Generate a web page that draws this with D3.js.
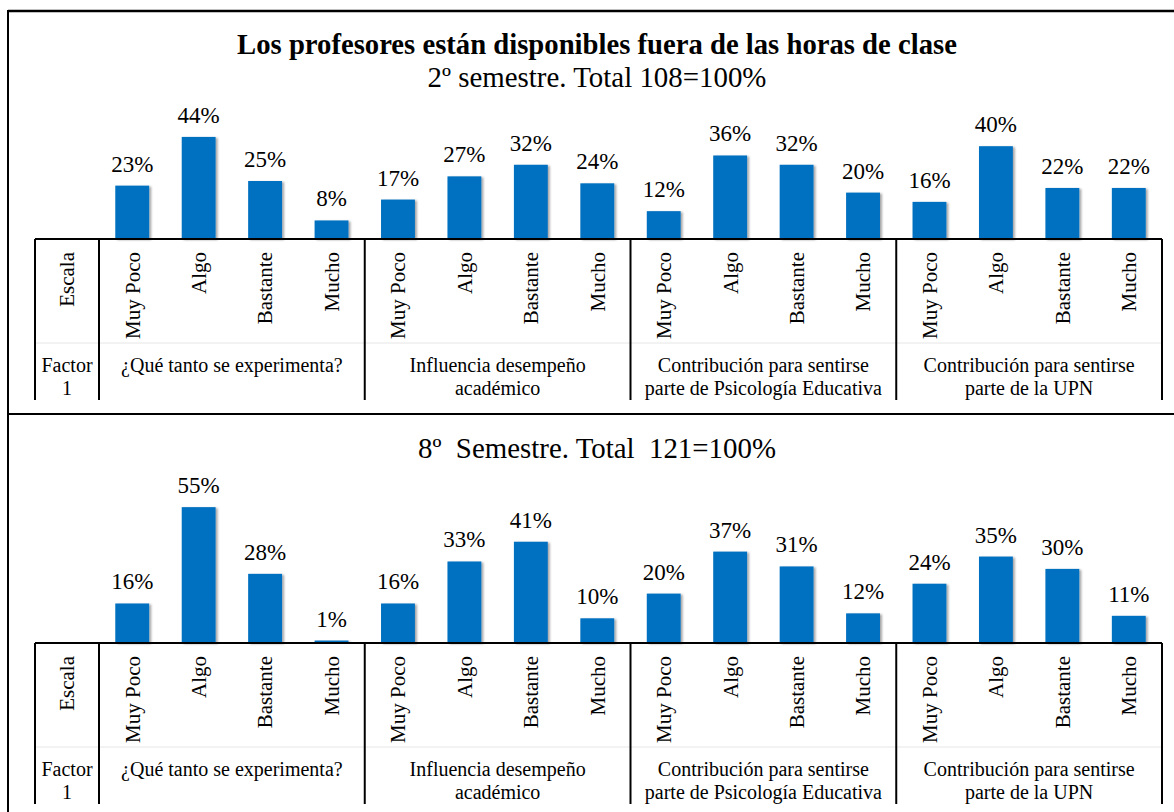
<!DOCTYPE html>
<html>
<head>
<meta charset="utf-8">
<script src="https://cdn.jsdelivr.net/npm/d3@7"></script>
<style>
  body { margin: 0; background: #fff; }
  svg text { font-family: "Liberation Serif", "Times New Roman", serif; fill: #000; white-space: pre; }
</style>
</head>
<body>
<div id="chart"></div>
<script>
const categories = ["Muy Poco", "Algo", "Bastante", "Mucho"];
const groups = [
    ["¿Qué tanto se experimenta?"],
    ["Influencia desempeño", "académico"],
    ["Contribución para sentirse", "parte de Psicología Educativa"],
    ["Contribución para sentirse", "parte de la UPN"]
];
const values2 = [
    [23, 44, 25, 8],
    [17, 27, 32, 24],
    [12, 36, 32, 20],
    [16, 40, 22, 22]
];
const values8 = [
    [16, 55, 28, 1],
    [16, 33, 41, 10],
    [20, 37, 31, 12],
    [24, 35, 30, 11]
];
const mainTitle = "Los profesores están disponibles fuera de las horas de clase";
const subTitle2 = "2º semestre. Total 108=100%";
const subTitle8 = "8º  Semestre. Total  121=100%";

const W = 1174, H = 812;
const SERIF = "'Liberation Serif', 'Times New Roman', serif";

const svg = d3.select("#chart").append("svg")
    .attr("width", W)
    .attr("height", H)
    .attr("font-family", SERIF);

// scale a text's font so it spans a given width
function fitWidth(sel, width) {
    const len = sel.node().getComputedTextLength();
    const fs = parseFloat(sel.style("font-size"));
    sel.style("font-size", (fs * width / len) + "px");
}

// soft shadow like the original office chart
const defs = svg.append("defs");
const f = defs.append("filter").attr("id", "shadow")
    .attr("x", "-20%").attr("y", "-20%").attr("width", "150%").attr("height", "150%");
f.append("feDropShadow")
    .attr("dx", 2).attr("dy", 1).attr("stdDeviation", 1.2)
    .attr("flood-color", "#000").attr("flood-opacity", 0.35);

// outer frame
svg.append("line").attr("x1", 8).attr("x2", W).attr("y1", 11).attr("y2", 11)
    .attr("stroke", "#000").attr("stroke-width", 2.5);
svg.append("line").attr("x1", 8).attr("x2", 8).attr("y1", 10).attr("y2", H)
    .attr("stroke", "#000").attr("stroke-width", 2);
svg.append("line").attr("x1", 8).attr("x2", W).attr("y1", 414).attr("y2", 414)
    .attr("stroke", "#000").attr("stroke-width", 2);

const t = svg.append("text")
    .attr("x", 597).attr("y", 54)
    .attr("text-anchor", "middle")
    .style("font-family", SERIF)
    .style("font-size", "27px").style("font-weight", "bold")
    .text(mainTitle);
fitWidth(t, 720);

const tableLeft = 35, scaleRight = 99, tableRight = 1162;

const xGroup = d3.scaleBand()
    .domain(d3.range(groups.length))
    .range([scaleRight, tableRight]);

const xCat = d3.scaleBand()
    .domain(categories)
    .range([0, xGroup.bandwidth()])
    .paddingInner(0.49)
    .paddingOuter(0.245);

function drawPanel(title, titleY, titleW, values, baseY, pxPerPct, maxPct) {
    const g = svg.append("g");

    const st = g.append("text")
        .attr("x", 597).attr("y", titleY)
        .attr("text-anchor", "middle")
        .style("font-family", SERIF)
        .style("font-size", "26px")
        .text(title);
    fitWidth(st, titleW);

    const y = d3.scaleLinear()
        .domain([0, maxPct])
        .range([baseY, baseY - maxPct * pxPerPct]);

    const flat = [];
    values.forEach((vals, gi) => vals.forEach((v, ci) => flat.push({ gi, cat: categories[ci], v })));

    g.selectAll(".bar")
        .data(flat)
        .enter().append("rect")
        .attr("class", "bar")
        .attr("x", d => xGroup(d.gi) + xCat(d.cat))
        .attr("width", xCat.bandwidth())
        .attr("y", d => y(d.v))
        .attr("height", d => baseY - y(d.v))
        .attr("fill", "#0070C0")
        .attr("filter", "url(#shadow)");

    g.selectAll(".val")
        .data(flat)
        .enter().append("text")
        .attr("x", d => xGroup(d.gi) + xCat(d.cat) + xCat.bandwidth() / 2)
        .attr("y", d => y(d.v) - 14)
        .attr("text-anchor", "middle")
        .style("font-family", SERIF)
        .style("font-size", "23px")
        .text(d => d.v + "%");

    // category axis, one per group
    groups.forEach((_, gi) => {
        const ax = g.append("g")
            .attr("transform", `translate(${xGroup(gi)},${baseY})`)
            .call(d3.axisBottom(xCat).tickSize(0));
        ax.attr("font-family", SERIF);
        ax.select(".domain").remove();
        ax.selectAll("text")
            .attr("transform", "rotate(-90)")
            .attr("x", -13).attr("y", 0).attr("dy", "0.35em")
            .attr("text-anchor", "end")
            .style("font-family", SERIF)
            .style("font-size", "21px")
            .attr("fill", "#000");
    });

    // table lines
    const tableH = 161;
    g.append("line").attr("x1", tableLeft).attr("x2", tableRight)
        .attr("y1", baseY).attr("y2", baseY)
        .attr("stroke", "#000").attr("stroke-width", 2);
    g.append("line").attr("x1", tableLeft).attr("x2", tableRight)
        .attr("y1", baseY + 104).attr("y2", baseY + 104)
        .attr("stroke", "#e6e6e6").attr("stroke-width", 1);
    const vx = [tableLeft, scaleRight].concat(groups.map((_, i) => xGroup(i) + xGroup.bandwidth()));
    vx.forEach(x => {
        g.append("line").attr("x1", x).attr("x2", x)
            .attr("y1", baseY).attr("y2", baseY + tableH)
            .attr("stroke", "#000").attr("stroke-width", 2);
    });

    g.append("text")
        .attr("transform", `translate(${(tableLeft + scaleRight) / 2},${baseY + 13}) rotate(-90)`)
        .attr("dy", "0.35em")
        .attr("text-anchor", "end")
        .style("font-family", SERIF)
        .style("font-size", "21px")
        .text("Escala");

    ["Factor", "1"].forEach((s, i) => {
        g.append("text")
            .attr("x", (tableLeft + scaleRight) / 2)
            .attr("y", baseY + 133 + i * 23)
            .attr("text-anchor", "middle")
            .style("font-family", SERIF)
            .style("font-size", "20px")
            .text(s);
    });

    groups.forEach((lines, gi) => {
        lines.forEach((s, li) => {
            g.append("text")
                .attr("x", xGroup(gi) + xGroup.bandwidth() / 2)
                .attr("y", baseY + 133 + li * 23)
                .attr("text-anchor", "middle")
                .style("font-family", SERIF)
                .style("font-size", "20px")
                .text(s);
        });
    });
}

drawPanel(subTitle2, 87, 339, values2, 239, 2.32, 50);
drawPanel(subTitle8, 458, 358, values8, 643, 2.47, 60);
</script>
</body>
</html>
